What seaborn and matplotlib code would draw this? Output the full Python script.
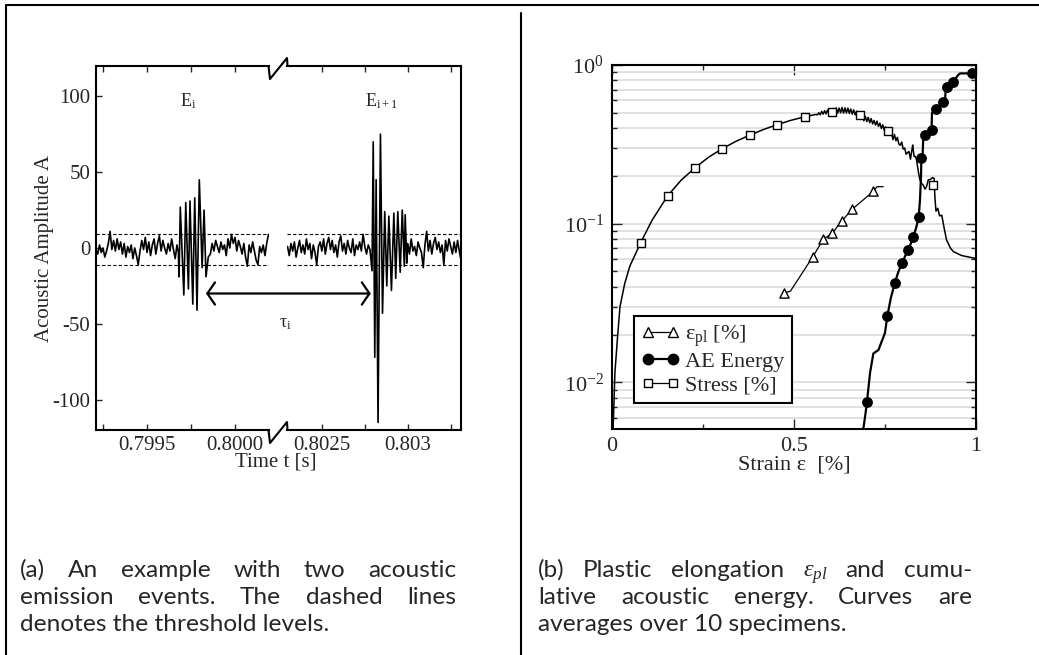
import matplotlib
matplotlib.use("Agg")
import matplotlib.pyplot as plt
import seaborn as sns
from matplotlib.lines import Line2D
from matplotlib.patches import ConnectionPatch
from matplotlib.ticker import FixedLocator, FixedFormatter, LogLocator, NullFormatter
from matplotlib import font_manager

# ---------------- data: panel (a) acoustic signal ----------------
# segment before the axis break
noise_a_t = [0.79921, 0.79922, 0.79923, 0.79924, 0.79925, 0.79926, 0.79927, 0.79928, 0.79929, 0.79930,
             0.79931, 0.79932, 0.79933, 0.79934, 0.79935, 0.79936, 0.79937, 0.79938, 0.79939, 0.79940,
             0.79941, 0.79942, 0.79943, 0.79944, 0.79945, 0.79946, 0.79947, 0.79948, 0.79949, 0.79950,
             0.79951, 0.79952, 0.79953, 0.79954, 0.79955, 0.79956, 0.79957, 0.79958, 0.79959, 0.79960,
             0.79961, 0.79962, 0.79963, 0.79964, 0.79965, 0.79966, 0.79967]
noise_a_v = [-1, -4, 2, -3, 0, -6, -2, 3, 11, -1, 5, -2, 6, -1, 4, -4, 3, -6, 1, -3, 2, -7, 0, -5,
             -11, -2, 5, -1, 7, -3, 4, -5, 2, 6, -4, 3, 8, -2, 5, 0, -4, 3, -2, 6, -1, -7, 2]
burst_1_t = [0.799678, 0.799682, 0.799689, 0.799709, 0.799720, 0.799735, 0.799744, 0.799760,
             0.799771, 0.799784, 0.799797, 0.799813, 0.799824, 0.799835, 0.799848]
burst_1_v = [-3, -19, 27, -31, 30, -27, 31, -37, 33, -41, 45, -13, 25, -19, -6]
noise_b_t = [0.79986, 0.79987, 0.79988, 0.79989, 0.79990, 0.79991, 0.79992, 0.79993, 0.79994, 0.79995,
             0.79996, 0.79997, 0.79998, 0.79999, 0.80000, 0.80001, 0.80002, 0.80003, 0.80004, 0.80005,
             0.80006, 0.80007, 0.80008, 0.80009, 0.80010, 0.80011, 0.80012, 0.80013, 0.80014, 0.80015,
             0.80016, 0.80017, 0.80018, 0.80019]
noise_b_v = [-4, 3, -2, 5, 1, -3, 4, -1, 2, -5, 6, 0, 9, 3, 7, -2, 5, 1, -4, 3, -6, -12, 2, -3,
             4, -2, -8, -11, 1, -3, 2, -5, 3, 9]
# segment after the axis break
noise_c_t = [0.80230, 0.80231, 0.80232, 0.80233, 0.80234, 0.80235, 0.80236, 0.80237, 0.80238, 0.80239,
             0.80240, 0.80241, 0.80242, 0.80243, 0.80244, 0.80245, 0.80246, 0.80247, 0.80248, 0.80249,
             0.80250, 0.80251, 0.80252, 0.80253, 0.80254, 0.80255, 0.80256, 0.80257, 0.80258, 0.80259,
             0.80260, 0.80261, 0.80262, 0.80263, 0.80264, 0.80265, 0.80266, 0.80267, 0.80268, 0.80269,
             0.80270, 0.80271, 0.80272, 0.80273, 0.80274, 0.80275, 0.80276, 0.80277, 0.80278]
noise_c_v = [1, -5, 3, -2, 4, -6, 0, 5, -3, 2, -4, 6, -1, 3, -7, 2, -3, -11, 1, 4, -2, 6, -4, 3,
             7, -1, 5, -3, 2, -6, 4, 8, -2, 3, -4, 5, 0, -3, 6, -5, 2, -1, 4, -2, 9, 1, -4, 2, -1]
burst_2_t = [0.802792, 0.802799, 0.802808, 0.802816, 0.802827, 0.802841, 0.802853, 0.802866,
             0.802878, 0.802890, 0.802905, 0.802919, 0.802930, 0.802942, 0.802956, 0.802968,
             0.802980, 0.802985, 0.802994]
burst_2_v = [-15, 70, -72, 45, -115, 75, -43, 24, -25, 21, -28, 23, -20, 24, -16, 25, -12, 22, -10]
noise_d_t = [0.80300, 0.80301, 0.80302, 0.80303, 0.80304, 0.80305, 0.80306, 0.80307, 0.80308, 0.80309,
             0.80310, 0.80311, 0.80312, 0.80313, 0.80314, 0.80315, 0.80316, 0.80317, 0.80318, 0.80319,
             0.80320, 0.80321, 0.80322, 0.80323, 0.80324, 0.80325, 0.80326, 0.80327, 0.80328, 0.80329,
             0.80330, 0.80331]
noise_d_v = [3, -4, 6, -2, 1, -5, 4, 0, -3, -13, 2, 11, -2, 5, -4, 3, 7, -1, 4, -3, 2, -11, 5, -2,
             6, 1, -4, 4, -3, 5, -2, -8]
thresholds = [9.5, -11.5]
arrow_from = (0.799835, -30)
arrow_to = (0.802785, -30)
event_labels = ["E$_\\mathregular{i}$", "E$_\\mathregular{i+1}$"]
event_pos = [(0.799733, 97), (0.802849, 97)]

a_left_ticks = [0.7995, 0.8000]
a_left_labels = ["0.7995", "0.8000"]
a_left_minor = [0.79925, 0.79975]
a_right_ticks = [0.8025, 0.8030]
a_right_labels = ["0.8025", "0.803"]
a_right_minor = [0.80275, 0.80325]
a_yticks = [-100, -50, 0, 50, 100]
a_ylabels = ["-100", "-50", "0", "50", "100"]

# ---------------- data: panel (b) ----------------
stress_x = [0.003, 0.008, 0.015, 0.022, 0.035, 0.049, 0.0788, 0.11, 0.153, 0.19, 0.227, 0.265,
            0.302, 0.34, 0.378, 0.416, 0.454, 0.49, 0.530, 0.56,
            0.564, 0.568, 0.572, 0.576, 0.580, 0.584, 0.588, 0.592, 0.596, 0.600, 0.604, 0.608,
            0.612, 0.616, 0.620, 0.624, 0.628, 0.632, 0.636, 0.640, 0.644, 0.648, 0.652, 0.656,
            0.660, 0.664, 0.668, 0.672, 0.676, 0.680, 0.684, 0.688, 0.692, 0.696, 0.700, 0.704,
            0.708, 0.712, 0.716, 0.720, 0.724, 0.728, 0.732, 0.736, 0.740, 0.744, 0.748, 0.752,
            0.756, 0.760, 0.764, 0.768, 0.772, 0.776, 0.780, 0.784, 0.788, 0.792, 0.796, 0.800,
            0.804, 0.808, 0.812, 0.816, 0.820, 0.824, 0.826, 0.830, 0.834, 0.837, 0.842,
            0.846, 0.85, 0.855, 0.86, 0.864, 0.869, 0.875, 0.88, 0.885,
            0.887, 0.89, 0.895, 0.90, 0.906, 0.912, 0.919, 0.93, 0.938, 0.96, 0.997]
stress_y = [0.005, 0.0115, 0.019, 0.030, 0.042, 0.054, 0.0759, 0.105, 0.150, 0.188, 0.224, 0.262,
            0.296, 0.330, 0.361, 0.392, 0.421, 0.447, 0.472, 0.488,
            0.485, 0.50, 0.485, 0.51, 0.49, 0.515, 0.492, 0.52, 0.495, 0.53, 0.497, 0.532,
            0.50, 0.537, 0.497, 0.535, 0.50, 0.54, 0.497, 0.537, 0.498, 0.535, 0.495, 0.528,
            0.49, 0.522, 0.485, 0.512, 0.47, 0.497, 0.462, 0.485, 0.445, 0.475, 0.44, 0.468,
            0.433, 0.46, 0.425, 0.447, 0.418, 0.443, 0.41, 0.43, 0.398, 0.42, 0.388, 0.407,
            0.378, 0.395, 0.362, 0.372, 0.338, 0.365, 0.333, 0.35, 0.318, 0.312, 0.327, 0.295,
            0.30, 0.274, 0.28, 0.285, 0.255, 0.292, 0.313, 0.265, 0.265, 0.25, 0.21,
            0.189, 0.18, 0.175, 0.165, 0.171, 0.189, 0.19, 0.195, 0.193,
            0.148, 0.12, 0.125, 0.112, 0.113, 0.095, 0.079, 0.070, 0.0667, 0.063, 0.0605]
stress_mx = [0.0788, 0.153, 0.227, 0.302, 0.378, 0.454, 0.530, 0.605, 0.681, 0.758, 0.882]
stress_my = [0.0759, 0.150, 0.224, 0.296, 0.361, 0.421, 0.472, 0.508, 0.482, 0.385, 0.175]

epl_x = [0.4734, 0.49, 0.552, 0.581, 0.605, 0.632, 0.660, 0.718, 0.728, 0.745]
epl_y = [0.0367, 0.0375, 0.062, 0.080, 0.087, 0.1044, 0.1233, 0.160, 0.171, 0.171]
epl_mx = [0.4734, 0.552, 0.581, 0.605, 0.632, 0.660, 0.718]
epl_my = [0.0367, 0.062, 0.080, 0.087, 0.1044, 0.1233, 0.160]

ae_x = [0.690, 0.697, 0.7005, 0.709, 0.718, 0.732, 0.750, 0.7564, 0.766, 0.7766, 0.787, 0.7976,
        0.806, 0.814, 0.821, 0.828, 0.836, 0.8425, 0.846, 0.849, 0.8498, 0.853, 0.855, 0.861,
        0.870, 0.878, 0.879, 0.890, 0.900, 0.910, 0.915, 0.917, 0.9194, 0.925, 0.9377, 0.950,
        0.956, 0.988]
ae_y = [0.005, 0.0065, 0.00756, 0.0115, 0.0152, 0.016, 0.0205, 0.0262, 0.034, 0.0421, 0.050,
        0.0568, 0.063, 0.0683, 0.075, 0.0828, 0.095, 0.1097, 0.14, 0.20, 0.258, 0.26, 0.34,
        0.362, 0.375, 0.389, 0.50, 0.526, 0.555, 0.587, 0.60, 0.72, 0.730, 0.75, 0.785, 0.86,
        0.885, 0.886]
ae_mx = [0.7005, 0.7564, 0.7766, 0.7976, 0.814, 0.828, 0.8425, 0.8498, 0.861, 0.878, 0.890,
         0.910, 0.9194, 0.9377, 0.988]
ae_my = [0.00756, 0.0262, 0.0421, 0.0568, 0.0683, 0.0828, 0.1097, 0.258, 0.362, 0.389, 0.526,
         0.587, 0.730, 0.785, 0.886]

legend_labels = ["ε$_\\mathregular{pl}$ [%]", "AE Energy", "Stress [%]"]
b_xticks = [0, 0.5, 1]
b_xlabels = ["0", "0.5", "1"]
b_xminor = [0.25, 0.75]

caption_a = ["(a) An example with two acoustic",
             "emission events.  The dashed lines",
             "denotes the threshold levels."]
caption_b = ["(b) Plastic elongation $\\epsilon_{pl}$ and cumu-",
             "lative acoustic energy.  Curves are",
             "averages over 10 specimens."]

# ---------------- style ----------------
sns.set_style("ticks")
plt.rcParams['font.family'] = ['Liberation Serif', 'DejaVu Serif']
plt.rcParams['mathtext.fontset'] = 'custom'
plt.rcParams['mathtext.rm'] = 'Liberation Serif'
plt.rcParams['mathtext.it'] = 'Liberation Serif:italic'
plt.rcParams['mathtext.bf'] = 'Liberation Serif:bold'
plt.rcParams['axes.unicode_minus'] = False

W, H = 1039, 655
fig = plt.figure(figsize=(W / 100, H / 100), dpi=100)


def rect(x0, y0, x1, y1):
    return [x0 / W, 1 - y1 / H, (x1 - x0) / W, (y1 - y0) / H]


def fx(px):
    return px / W


def fy(py):
    return 1 - py / H


ax1 = fig.add_axes(rect(96, 66, 269, 430))
ax2 = fig.add_axes(rect(287, 66, 461, 430))
ax3 = fig.add_axes(rect(612, 65, 976, 429))

# ---------------- panel (a) ----------------
left_t = noise_a_t + burst_1_t + noise_b_t
left_v = noise_a_v + burst_1_v + noise_b_v
right_t = noise_c_t + burst_2_t + noise_d_t
right_v = noise_c_v + burst_2_v + noise_d_v

sns.lineplot(x=left_t, y=left_v, ax=ax1, color='k', lw=1.2, estimator=None, sort=False)
sns.lineplot(x=right_t, y=right_v, ax=ax2, color='k', lw=1.2, estimator=None, sort=False)

for ax in (ax1, ax2):
    for th in thresholds:
        ax.axhline(th, color='k', ls=(0, (3, 2)), lw=0.8)
    ax.set_ylim(-120, 120)
    for s in ax.spines.values():
        s.set_linewidth(1.5)
        s.set_color('k')
    ax.tick_params(which='both', direction='in', top=True, length=4, width=1,
                   labelsize=15, pad=4)

ax1.set_xlim(0.79921, 0.800193)
ax2.set_xlim(0.802297, 0.80331)
ax1.spines['right'].set_visible(False)
ax2.spines['left'].set_visible(False)

ax1.xaxis.set_major_locator(FixedLocator(a_left_ticks))
ax1.xaxis.set_major_formatter(FixedFormatter(a_left_labels))
ax1.xaxis.set_minor_locator(FixedLocator(a_left_minor))
ax2.xaxis.set_major_locator(FixedLocator(a_right_ticks))
ax2.xaxis.set_major_formatter(FixedFormatter(a_right_labels))
ax2.xaxis.set_minor_locator(FixedLocator(a_right_minor))
ax1.yaxis.set_major_locator(FixedLocator(a_yticks))
ax1.yaxis.set_major_formatter(FixedFormatter(a_ylabels))
ax1.tick_params(axis='y', right=False)
ax2.tick_params(axis='y', left=False, right=False, labelleft=False)
ax1.set_xlabel("")
ax2.set_xlabel("")

ax1.text(event_pos[0][0], event_pos[0][1], event_labels[0], ha='center', va='center', fontsize=13)
ax2.text(event_pos[1][0], event_pos[1][1], event_labels[1], ha='center', va='center', fontsize=13)
fig.text(fx(285), fy(323), "τ$_\\mathregular{i}$", ha='center', va='center', fontsize=13)

con = ConnectionPatch(xyA=arrow_from, coordsA=ax1.transData, xyB=arrow_to, coordsB=ax2.transData,
                      arrowstyle='<->,head_length=0.55,head_width=0.8', lw=1.6, color='k',
                      mutation_scale=10)
fig.add_artist(con)

# axis break marks
for yb in (66, 430):
    fig.add_artist(Line2D([fx(268.5), fx(270), fx(287), fx(287.5)],
                          [fy(yb), fy(yb + 13), fy(yb - 8), fy(yb)], color='k', lw=1.5))

fig.text(fx(45), fy(248), "Acoustic Amplitude A", rotation=90, ha='center', va='center', fontsize=15)
fig.text(fx(276), fy(462), "Time t [s]", ha='center', va='center', fontsize=15)

# ---------------- panel (b) ----------------
ax3.set_yscale('log')
ax3.set_xlim(0, 1)
ax3.set_ylim(0.00508, 1)
ax3.set_axisbelow(True)
ax3.yaxis.grid(True, which='both', color='#dedede', lw=1.3)
ax3.xaxis.grid(False)

sns.lineplot(x=stress_x, y=stress_y, ax=ax3, color='k', lw=1.1, estimator=None, sort=False)
sns.lineplot(x=epl_x, y=epl_y, ax=ax3, color='k', lw=0.9, estimator=None, sort=False)
sns.lineplot(x=ae_x, y=ae_y, ax=ax3, color='k', lw=1.6, estimator=None, sort=False)
sns.scatterplot(x=stress_mx, y=stress_my, ax=ax3, marker='s', s=38, color='white',
                edgecolor='k', linewidth=1.0, zorder=4)
sns.scatterplot(x=epl_mx, y=epl_my, ax=ax3, marker='^', s=44, color='white',
                edgecolor='k', linewidth=1.0, zorder=4)
sns.scatterplot(x=ae_mx, y=ae_my, ax=ax3, marker='o', s=46, color='k',
                edgecolor='k', linewidth=1.0, zorder=4)

for s in ax3.spines.values():
    s.set_linewidth(1.5)
    s.set_color('k')
ax3.yaxis.set_major_locator(LogLocator(base=10, numticks=10))
ax3.yaxis.set_minor_locator(LogLocator(base=10, subs=(2, 3, 4, 5, 6, 7, 8, 9), numticks=20))
ax3.yaxis.set_minor_formatter(NullFormatter())
ax3.xaxis.set_major_locator(FixedLocator(b_xticks))
ax3.xaxis.set_major_formatter(FixedFormatter(b_xlabels))
ax3.xaxis.set_minor_locator(FixedLocator(b_xminor))
ax3.tick_params(which='major', direction='in', top=True, right=True, length=7, width=1,
                labelsize=16, pad=6)
ax3.tick_params(which='minor', direction='in', top=True, right=True, length=3.5, width=1)
ax3.set_xlabel("")
ax3.set_ylabel("")
fig.text(fx(794), fy(465), "Strain ε  [%]", ha='center', va='center', fontsize=16)

handles = [
    Line2D([], [], color='k', lw=0.9, marker='^', ms=7, mfc='white', mec='k', mew=1.0),
    Line2D([], [], color='k', lw=1.6, marker='o', ms=7.5, mfc='k', mec='k'),
    Line2D([], [], color='k', lw=0.9, marker='s', ms=6.3, mfc='white', mec='k', mew=1.0),
]
leg = ax3.legend(handles, legend_labels, loc='lower left', bbox_to_anchor=(0.06, 0.071),
                 numpoints=2, frameon=True, fancybox=False, edgecolor='k', framealpha=1,
                 fontsize=16, handlelength=1.7, handletextpad=0.25, labelspacing=0.12,
                 borderpad=0.35, borderaxespad=0)
leg.get_frame().set_linewidth(1.5)

# ---------------- page frame ----------------
fig.add_artist(Line2D([fx(6), 1], [fy(5), fy(5)], color='k', lw=1.5))
fig.add_artist(Line2D([fx(6), fx(6)], [fy(5), 0], color='k', lw=1.5))
fig.add_artist(Line2D([fx(521), fx(521)], [fy(13), 0], color='k', lw=1.5))

# ---------------- captions (justified) ----------------
renderer = fig.canvas.get_renderer()
available = {f.name for f in font_manager.fontManager.ttflist}
cap_family = ['Liberation Sans Narrow'] if 'Liberation Sans Narrow' in available else ['Lato']
cap_family = cap_family + ['DejaVu Sans']

# size the caption font so that the last (unjustified) line of (a) has its measured width
probe = fig.text(0, 0, caption_a[2], family=cap_family, fontsize=15)
probe_w = probe.get_window_extent(renderer=renderer).width
probe.remove()
cap_size = 15 * 310 / probe_w
cap_font = dict(family=cap_family, fontsize=cap_size)


def put_caption(lines, x0, x1, baselines):
    for i, (line, yb) in enumerate(zip(lines, baselines)):
        last = i == len(lines) - 1
        if last:
            fig.text(fx(x0), fy(yb), line, ha='left', va='baseline', **cap_font)
            continue
        words = line.split()
        texts = [fig.text(0, 0, w, ha='left', va='baseline', **cap_font) for w in words]
        widths = [t.get_window_extent(renderer=renderer).width for t in texts]
        gap = (x1 - x0 - sum(widths)) / (len(words) - 1)
        x = x0
        for t, w in zip(texts, widths):
            t.set_position((fx(x), fy(yb)))
            x += w + gap


put_caption(caption_a, 20, 456, [577, 604, 631])
put_caption(caption_b, 538, 972, [577, 604, 631])

fig.savefig("out.png", dpi=100)
